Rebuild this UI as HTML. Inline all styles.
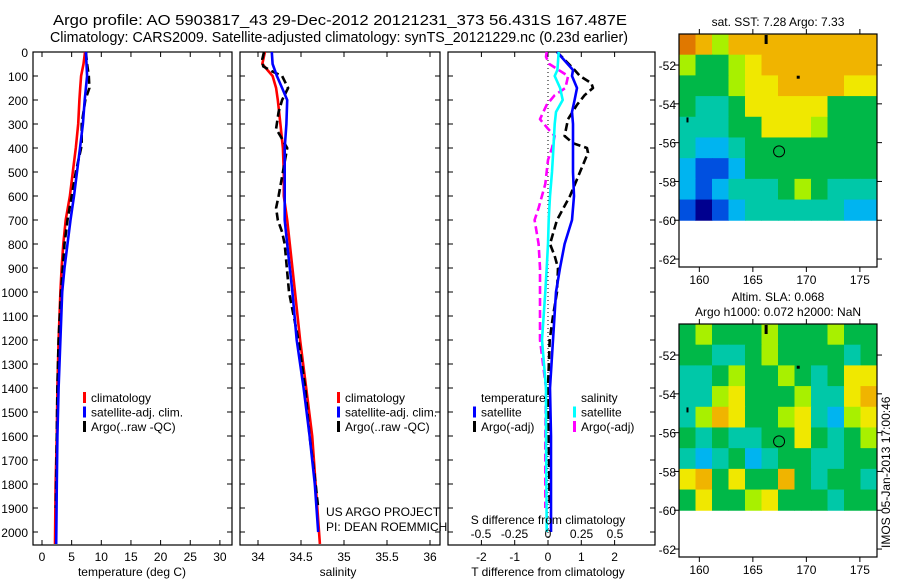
<!DOCTYPE html>
<html><head><meta charset="utf-8"><style>
html,body{margin:0;padding:0;background:#fff;}
svg{display:block;font-family:"Liberation Sans",sans-serif;}
</style></head><body>
<svg id="c" width="900" height="580" viewBox="0 0 900 580"></svg>
<script>
const depths=[0,50,100,150,200,300,400,500,600,700,800,900,1000,1200,1400,1600,1800,2050];
const tempClim=[7.25,7.0,6.6,6.45,6.3,6.1,5.7,5.2,4.7,4.0,3.6,3.3,3.1,2.8,2.6,2.5,2.3,2.2];
const tempSat=[7.4,7.5,7.6,7.4,7.2,6.9,6.4,5.9,5.4,4.8,4.3,3.8,3.4,3.1,2.8,2.6,2.5,2.4];
const argoDepths=[0,50,100,150,200,300,380,400,500,600,700,800,1000,1200,1400,1600,1800,1900];
const tempArgo=[7.4,7.6,7.9,8.0,7.3,6.7,6.7,6.6,5.7,5.0,4.3,3.8,3.2,2.8,2.6,2.5,2.4,2.35];
const salClim=[34.08,34.05,34.17,34.21,34.23,34.26,34.29,34.30,34.30,34.34,34.37,34.40,34.43,34.49,34.56,34.63,34.67,34.72];
const salSat=[34.16,34.17,34.22,34.28,34.34,34.33,34.31,34.31,34.31,34.31,34.34,34.37,34.40,34.45,34.53,34.60,34.66,34.70];
const salArgoDepths=[0,30,60,80,100,150,200,250,320,350,400,500,600,650,700,750,800,1000,1200,1400,1600,1800,1900];
const salArgo=[34.07,34.05,34.06,34.16,34.28,34.35,34.28,34.24,34.21,34.26,34.34,34.29,34.24,34.21,34.23,34.28,34.31,34.36,34.47,34.55,34.60,34.67,34.70];
const dDepths=[0,75,100,150,200,250,300,400,500,600,700,800,900,1000,1200,1400,1600,1800,2000];
const tDiffSat=[0.27,0.75,0.72,0.87,0.8,0.72,0.75,0.75,0.75,0.78,0.72,0.5,0.36,0.24,0.15,0.06,0.09,0.09,0.09];
const tArgoDepths=[0,75,100,130,150,180,220,280,350,380,400,420,500,600,700,800,850,900,1000,1100,1200,1400,1600,1900];
const tDiffArgo=[0.27,0.8,0.96,1.3,1.35,1.1,0.87,0.6,0.5,0.75,1.17,1.2,0.96,0.66,0.27,0.06,0.2,0.3,0.27,0.15,0.05,0.0,0.02,0.05];
const sDiffSat=[0.08,0.07,0.05,0.09,0.11,0.06,0.05,0.04,0.03,0.015,0.005,0,-0.01,-0.02,-0.045,-0.015,-0.015,-0.012,-0.01];
const sArgoDepths=[0,20,50,100,150,180,220,280,320,350,400,450,550,650,700,800,900,1000,1200,1400,1600,1900];
const sDiffArgo=[-0.01,-0.015,0.01,0.15,0.13,0.05,-0.01,-0.06,0,0.05,0.03,0,-0.02,-0.07,-0.1,-0.07,-0.06,-0.06,-0.06,-0.015,-0.02,-0.02];
const depthTicks=[0,100,200,300,400,500,600,700,800,900,1000,1100,1200,1300,1400,1500,1600,1700,1800,1900,2000];
const tempTicks=[0,5,10,15,20,25,30];
const salTicks=[34,34.5,35,35.5,36];
const tDiffTicks=[-2,-1,0,1,2];
const sDiffTicks=[-0.5,-0.25,0,0.25,0.5];
const lonTicks=[160,165,170,175];
const latTicks=[-52,-54,-56,-58,-60,-62];
const mapLons=[158.1,176.6];
const mapLatRows=9, mapCols=12;
const sstGrid=[
[8,7,5,7,7,7,7,7,7,7,7,7],
[5,4,4,5,6,7,7,7,7,7,7,7],
[4,4,4,5,6,6,7,7,7,7,6,6],
[4,3,3,4,6,6,6,6,6,4,4,4],
[3,3,3,4,4,6,6,6,5,4,4,4],
[3,2,2,3,4,4,4,4,4,4,4,4],
[2,1,1,2,4,4,4,4,4,4,4,4],
[2,1,2,3,3,3,4,5,4,3,3,3],
[1,0,1,2,3,3,3,3,3,3,2,2]];
const slaGrid=[
[4,5,4,4,4,5,4,4,4,5,4,4],
[4,4,3,3,4,5,4,4,4,4,3,4],
[3,3,4,5,4,4,5,4,3,4,6,6],
[3,3,5,6,4,4,4,5,3,3,6,7],
[3,5,7,6,4,4,5,6,3,2,5,6],
[4,3,4,3,3,4,4,6,4,3,4,5],
[3,2,3,4,2,3,4,4,3,3,4,4],
[6,7,4,6,4,4,7,4,3,4,4,3],
[4,6,4,4,5,6,4,4,4,3,4,4]];
const argoPos=[167.45,-56.45];

const palette=['#00008f','#0050e0','#00b4f0','#00c8a8','#00b848','#a8f000','#f0e800','#f0b400','#e07800'];
const NS='http://www.w3.org/2000/svg';
const svg=document.getElementById('c');
function el(tag,attrs,parent){const e=document.createElementNS(NS,tag);for(const k in attrs)e.setAttribute(k,attrs[k]);(parent||svg).appendChild(e);return e;}
function txt(s,x,y,anchor,size,parent){const t=el('text',{x:x,y:y,'text-anchor':anchor||'start','font-size':size||12,fill:'#000'},parent);t.textContent=s;return t;}
const Y0=52,Y1=545;
const yD=d=>Y0+d*0.24;

function panel(name,x0,x1,fx,ticks,tlabels,depthLabels){
  const g=el('g',{});
  
  
  el('rect',{x:x0,y:Y0,width:x1-x0,height:Y1-Y0,fill:'none',stroke:'#000','stroke-width':1.2},g);
  depthTicks.forEach(d=>{
    const y=yD(d);
    el('line',{x1:x0,x2:x0+5,y1:y,y2:y,stroke:'#000'},g);
    el('line',{x1:x1,x2:x1-5,y1:y,y2:y,stroke:'#000'},g);
    if(depthLabels){const t=txt(String(d),28,y+5,'end',12,g);}
  });
  ticks.forEach((v,i)=>{
    const x=fx(v);
    el('line',{x1:x,x2:x,y1:Y0,y2:Y0+5,stroke:'#000'},g);
    el('line',{x1:x,x2:x,y1:Y1,y2:Y1-5,stroke:'#000'},g);
    if(tlabels){const t=txt(tlabels[i],x,561,'middle',12,g);}
  });
  return g;
}
function line(name,xs,ds,fx,color,dash,parent){
  let p='';
  xs.forEach((v,i)=>{p+=(i?'L':'M')+fx(v).toFixed(1)+','+yD(ds[i]).toFixed(1);});
  const a={d:p,fill:'none',stroke:color,'stroke-width':2.6,'stroke-linejoin':'round'};
  if(dash)a['stroke-dasharray']=dash;
  const e=el('path',a,parent);
  
  
}
function legend(items,x,y,parent){
  items.forEach((it,i)=>{
    const yy=y+i*14.5;
    el('rect',{x:x,y:yy-10,width:3,height:11,fill:it[1]},parent);
    const t=txt(it[0],x+8,yy,'start',12,parent);
    
    
  });
}
// titles
let t=txt('Argo profile: AO 5903817_43 29-Dec-2012 20121231_373 56.431S 167.487E',53,25,'start',15);
t.setAttribute('textLength','574');t.setAttribute('lengthAdjust','spacingAndGlyphs');

t=txt('Climatology: CARS2009. Satellite-adjusted climatology: synTS_20121229.nc (0.23d earlier)',50,42,'start',15);
t.setAttribute('textLength','578');t.setAttribute('lengthAdjust','spacingAndGlyphs');


// temperature panel
const fT=v=>42+5.93*v;
const g1=panel('temperature-panel',33,232,fT,tempTicks,tempTicks.map(String),true);
line('temp-climatology-line',tempClim,depths,fT,'#f00',null,g1);
line('temp-argo-line',tempArgo,argoDepths,fT,'#000','8,4',g1);
line('temp-satellite-line',tempSat,depths,fT,'#00f',null,g1);
legend([['climatology','#f00'],['satellite-adj. clim.','#00f'],['Argo(..raw -QC)','#000']],83,402,g1);
t=txt('temperature (deg C)',132,576,'middle',12);

// salinity panel
const fS=v=>258+86*(v-34);
const g2=panel('salinity-panel',240,440,fS,salTicks,salTicks.map(String),false);
line('sal-climatology-line',salClim,depths,fS,'#f00',null,g2);
line('sal-argo-line',salArgo,salArgoDepths,fS,'#000','8,4',g2);
line('sal-satellite-line',salSat,depths.slice(0,17).concat([2000]),fS,'#00f',null,g2);
legend([['climatology','#f00'],['satellite-adj. clim.','#00f'],['Argo(..raw -QC)','#000']],337,402,g2);
t=txt('US ARGO PROJECT',326,516,'start',12,g2);
t=txt('PI: DEAN ROEMMICH',326,531,'start',12,g2);
t=txt('salinity',338,576,'middle',12);

// difference panel
const fdT=v=>548+33.3*v;
const fdS=v=>548+134*v;
const g3=panel('difference-panel',448,655,fdT,tDiffTicks,tDiffTicks.map(String),false);
el('line',{x1:548,x2:548,y1:Y0,y2:Y1,stroke:'#000','stroke-dasharray':'1,3'},g3);
line('sdiff-argo-line',sDiffArgo,sArgoDepths,fdS,'#f0f','8,4',g3);
line('tdiff-argo-line',tDiffArgo,tArgoDepths,fdT,'#000','8,4',g3);
line('tdiff-satellite-line',tDiffSat,dDepths,fdT,'#00f',null,g3);
line('sdiff-satellite-line',sDiffSat,dDepths,fdS,'#0ff',null,g3);
t=txt('temperature',481,402,'start',12,g3);
t=txt('salinity',581,402,'start',12,g3);
legend([['satellite','#00f'],['Argo(-adj)','#000']],473,416.5,g3);
legend([['satellite','#0ff'],['Argo(-adj)','#f0f']],573,416.5,g3);
t=txt('S difference from climatology',548,524,'middle',12);
sDiffTicks.forEach(v=>{const tt=txt(String(v),fdS(v),538,'middle',12);});
t=txt('T difference from climatology',548,576,'middle',12);

// maps
function map(name,top,grid,titles){
  const x0=679,x1=877,bot=top+233;
  const fx=lon=>x0+(lon-mapLons[0])*(x1-x0)/(mapLons[1]-mapLons[0]);
  const fy=lat=>top+(-50.4-lat)*19.4;
  const g=el('g',{});
  
  
  const cw=(x1-x0)/mapCols, ch=(fy(-60)-top)/mapLatRows;
  grid.forEach((row,r)=>row.forEach((v,c)=>{
    const cell=el('rect',{x:x0+c*cw,y:top+r*ch,width:cw+0.5,height:ch+0.5,fill:palette[v]},g);
    
    
  }));
  el('rect',{x:x0,y:top,width:x1-x0,height:bot-top,fill:'none',stroke:'#000','stroke-width':1.2},g);
  lonTicks.forEach(l=>{const x=fx(l);el('line',{x1:x,x2:x,y1:top,y2:top-5,stroke:'#000'},g);el('line',{x1:x,x2:x,y1:bot,y2:bot+5,stroke:'#000'},g);
    const tt=txt(String(l),x,bot+17,'middle',12,g);});
  latTicks.forEach(l=>{const y=fy(l);el('line',{x1:x0,x2:x0-5,y1:y,y2:y,stroke:'#000'},g);el('line',{x1:x1,x2:x1+5,y1:y,y2:y,stroke:'#000'},g);
    const tt=txt(String(l),676,y+5,'end',12,g);});
  const c=el('circle',{cx:fx(argoPos[0]),cy:fy(argoPos[1]),r:5.5,fill:'none',stroke:'#000','stroke-width':1},g);
  
  el('rect',{x:fx(166.1),y:top+1,width:3,height:9,fill:'#000'},g);
  el('rect',{x:fx(169.1),y:fy(-52.55),width:3,height:3,fill:'#000'},g);
  el('rect',{x:fx(158.8),y:fy(-54.7),width:2,height:5,fill:'#000'},g);
  titles.forEach((s,i)=>{const tt=txt(s,778,top-(titles.length-i)*15+11-4,'middle',12,g);});
}
map('sst-map',34,sstGrid,['sat. SST: 7.28 Argo: 7.33']);
map('sla-map',324,slaGrid,['Altim. SLA: 0.068','Argo h1000: 0.072 h2000: NaN']);
t=txt('IMOS 05-Jan-2013 17:00:46',0,0,'start',12);
t.setAttribute('transform','translate(890,548) rotate(-90)');

</script>
</body></html>
